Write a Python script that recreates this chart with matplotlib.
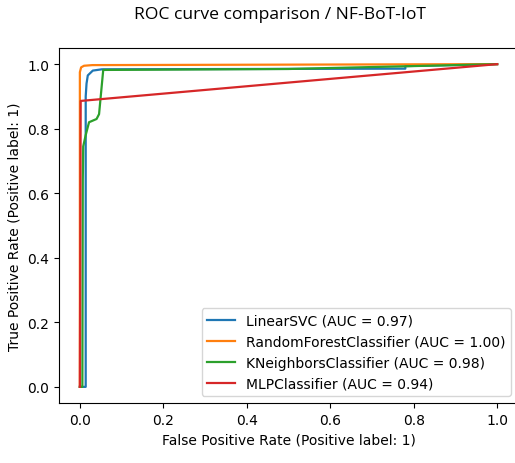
import matplotlib
matplotlib.use("Agg")
import matplotlib.pyplot as plt

names = ["LinearSVC", "RandomForestClassifier", "KNeighborsClassifier", "MLPClassifier"]
aucs = [0.97, 1.00, 0.98, 0.94]
colors = ["#1f77b4", "#ff7f0e", "#2ca02c", "#d62728"]

svc_fpr = [0.0, 0.014, 0.014, 0.016, 0.019, 0.031, 0.053, 0.78, 0.78, 1.0]
svc_tpr = [0.0, 0.0, 0.90, 0.94, 0.965, 0.98, 0.984, 0.986, 0.994, 1.0]
rf_fpr = [0.0, 0.0, 0.003, 0.01, 0.03, 1.0]
rf_tpr = [0.0, 0.975, 0.99, 0.995, 0.997, 1.0]
knn_fpr = [0.0, 0.006, 0.007, 0.008, 0.014, 0.022, 0.04, 0.046, 0.056, 0.5, 1.0]
knn_tpr = [0.0, 0.0, 0.64, 0.745, 0.78, 0.82, 0.83, 0.845, 0.982, 0.985, 1.0]
mlp_fpr = [0.0, 0.002, 1.0]
mlp_tpr = [0.0, 0.886, 1.0]

fprs = [svc_fpr, rf_fpr, knn_fpr, mlp_fpr]
tprs = [svc_tpr, rf_tpr, knn_tpr, mlp_tpr]

dpi = 100
fig = plt.figure(figsize=(515 / dpi, 464 / dpi), dpi=dpi)
ax = fig.add_axes([59 / 515, (464 - 404) / 464, (518 - 59) / 515, 355 / 464])

for n, a, c, fx, ty in zip(names, aucs, colors, fprs, tprs):
    ax.plot(fx, ty, color=c, lw=1.6, label=f"{n} (AUC = {a:.2f})")

ax.set_xlim(-0.05, 1.05)
ax.set_ylim(-0.05, 1.05)
ax.set_xticks([0.0, 0.2, 0.4, 0.6, 0.8, 1.0])
ax.set_yticks([0.0, 0.2, 0.4, 0.6, 0.8, 1.0])
ax.set_xlabel("False Positive Rate (Positive label: 1)")
ax.set_ylabel("True Positive Rate (Positive label: 1)")
ax.legend(loc="lower right")

fig.text(280 / 515, 1 - 15 / 464, "ROC curve comparison / NF-BoT-IoT",
         ha="center", va="center", fontsize=12.6, family="Open Sans")

fig.savefig("out.png", dpi=dpi)
